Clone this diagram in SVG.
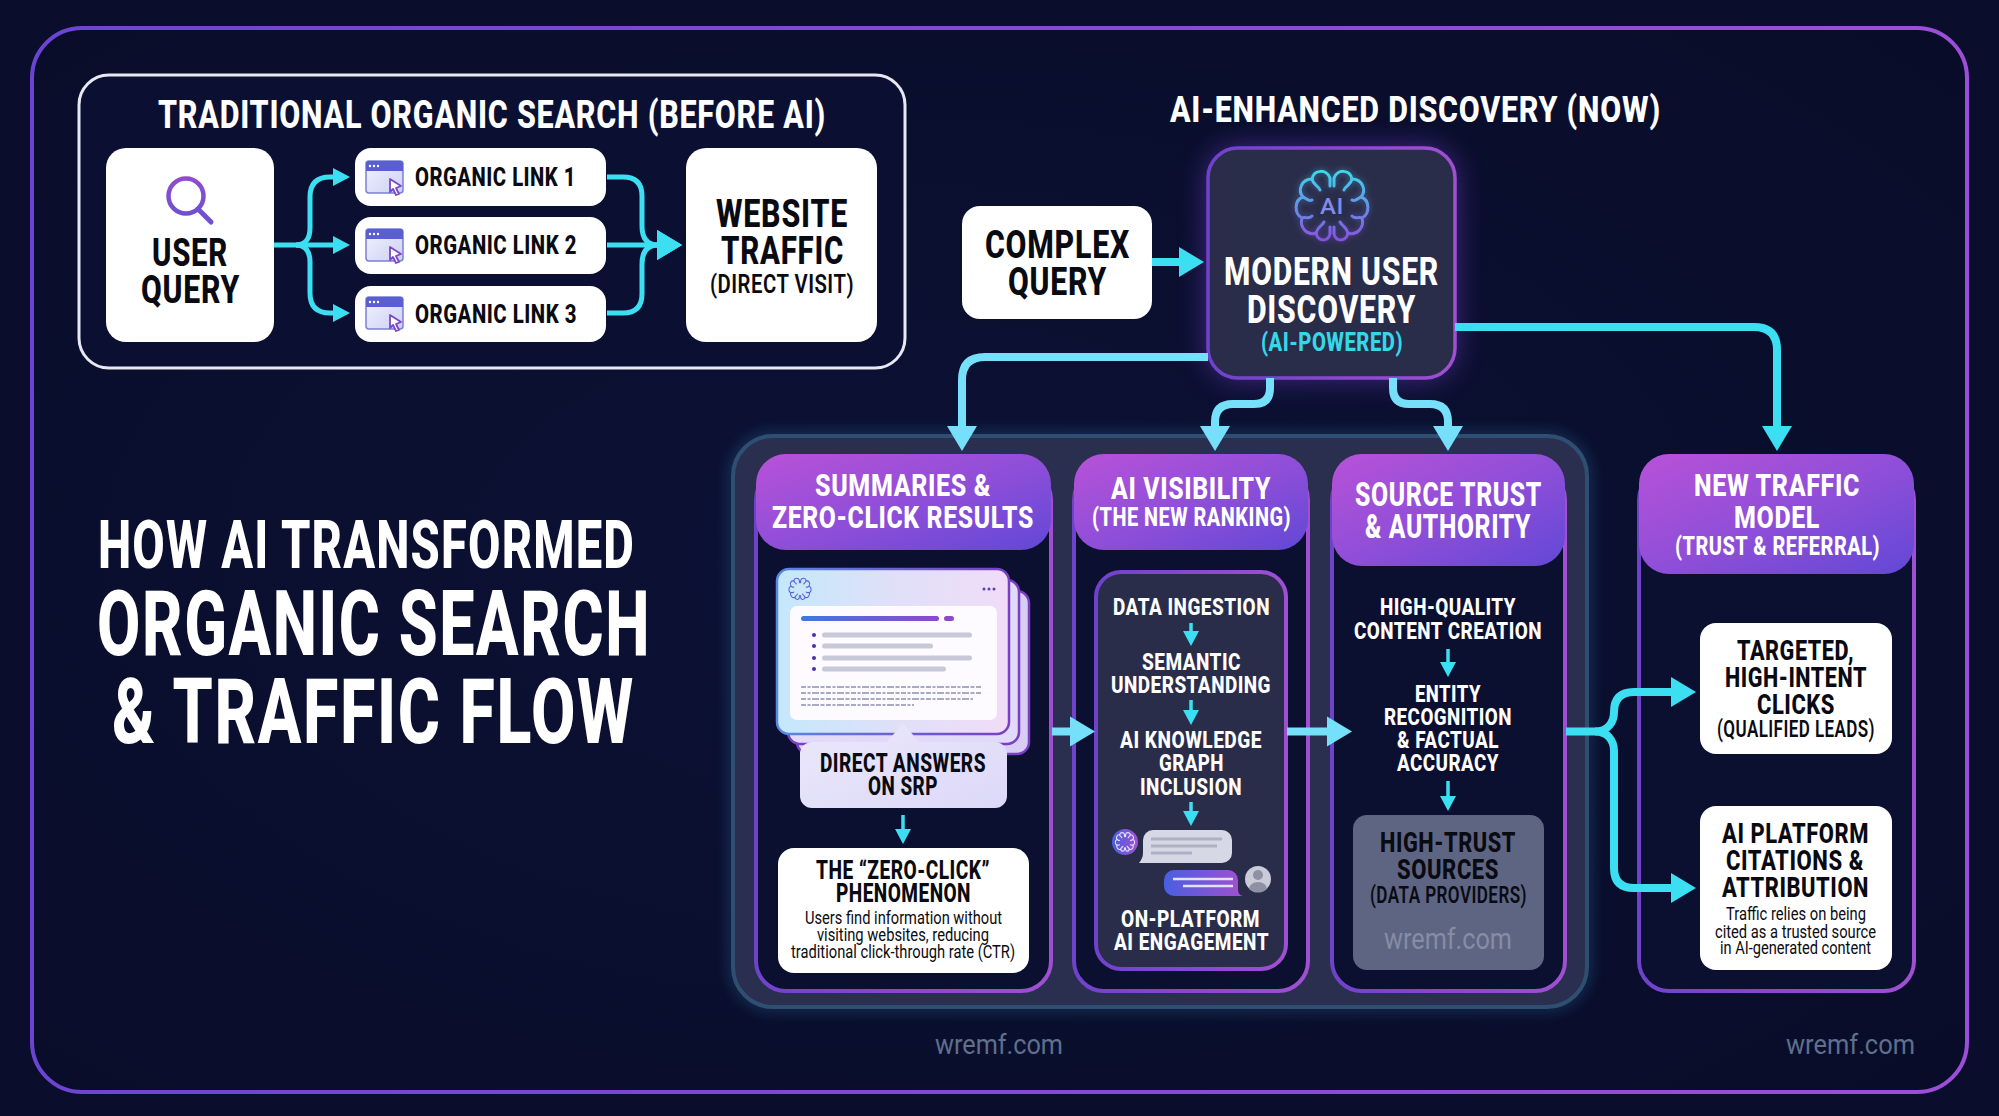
<svg xmlns="http://www.w3.org/2000/svg" xmlns:xlink="http://www.w3.org/1999/xlink" width="1999" height="1116" viewBox="0 0 1999 1116">
<style>
text{font-family:Roboto,"Liberation Sans",sans-serif;font-weight:800;fill:#fff;letter-spacing:.025em}
.k{fill:#0a0a12}
.n{font-weight:400;letter-spacing:0}
.m{font-weight:600}
.body{fill:#0b0f30;stroke:url(#colStroke);stroke-width:4}
.head{fill:url(#headG)}
.lineC{fill:none;stroke:#3cdff2;stroke-width:5;stroke-linejoin:round}
.bigC{fill:none;stroke:#3cdff2;stroke-width:8}
.bigL{fill:none;stroke:#76e0fa;stroke-width:8}
.thin{fill:none;stroke:#3cdff2;stroke-width:3.5}
.gl{fill:#c8c9d8}
.tiny{stroke:#a8a9c2;stroke-width:2;stroke-dasharray:5 1.5 3 1.5 7 1.5 4 1.5;fill:none}
</style>
<defs>
<radialGradient id="bgG" cx=".45" cy=".5" r=".75"><stop offset="0" stop-color="#0c1236"/><stop offset="1" stop-color="#090c28"/></radialGradient>
<linearGradient id="frameG" x1="0" y1="0" x2="1" y2="0"><stop offset="0" stop-color="#6c44d4"/><stop offset="1" stop-color="#9c4ed8"/></linearGradient>
<linearGradient id="colStroke" x1="0" y1="0" x2="1" y2="0"><stop offset="0" stop-color="#6f42cc"/><stop offset="1" stop-color="#a04fd2"/></linearGradient>
<linearGradient id="headG" x1="0" y1="0" x2="1" y2="1"><stop offset="0" stop-color="#b852d8"/><stop offset=".55" stop-color="#8c4ed8"/><stop offset="1" stop-color="#6148d6"/></linearGradient>
<linearGradient id="cardG" x1="0" y1="0" x2="1" y2="0"><stop offset="0" stop-color="#c4e8fc"/><stop offset=".5" stop-color="#dfe0f8"/><stop offset="1" stop-color="#f1dcf8"/></linearGradient>
<linearGradient id="cardS" x1="0" y1="0" x2="1" y2="0"><stop offset="0" stop-color="#5a86e4"/><stop offset="1" stop-color="#7a3fc4"/></linearGradient>
<linearGradient id="barG" x1="0" y1="0" x2="1" y2="0"><stop offset="0" stop-color="#3f78e0"/><stop offset="1" stop-color="#8e48cc"/></linearGradient>
<linearGradient id="bubG" x1="0" y1="0" x2="1" y2="0"><stop offset="0" stop-color="#4a5ee0"/><stop offset="1" stop-color="#a250d0"/></linearGradient>
<linearGradient id="calG" x1="0" y1="0" x2="1" y2="1"><stop offset="0" stop-color="#ebe8fb"/><stop offset="1" stop-color="#dcd8f8"/></linearGradient>
<linearGradient id="magG" x1="0" y1="0" x2="0" y2="1"><stop offset="0" stop-color="#8f4cd0"/><stop offset="1" stop-color="#7050d0"/></linearGradient>
<linearGradient id="brainG" gradientUnits="userSpaceOnUse" x1="0" y1="-36" x2="0" y2="36"><stop offset="0" stop-color="#3fd8ee"/><stop offset="1" stop-color="#8a4ce0"/></linearGradient>
<linearGradient id="winG" x1="0" y1="0" x2="1" y2="1"><stop offset="0" stop-color="#f2f3fd"/><stop offset="1" stop-color="#cdd0f5"/></linearGradient>
<filter id="glowP" x="-30%" y="-30%" width="160%" height="160%"><feGaussianBlur stdDeviation="14"/></filter>
<filter id="glowB" x="-10%" y="-10%" width="120%" height="120%"><feGaussianBlur stdDeviation="7"/></filter>
<filter id="soft" x="-20%" y="-20%" width="140%" height="140%"><feGaussianBlur stdDeviation="3"/></filter>
<marker id="hL" markerUnits="userSpaceOnUse" markerWidth="26" markerHeight="32" refX="1" refY="16" orient="auto"><path d="M0 1L25 16L0 31Z" fill="#76e0fa"/></marker>
<marker id="hC" markerUnits="userSpaceOnUse" markerWidth="26" markerHeight="32" refX="1" refY="16" orient="auto"><path d="M0 1L25 16L0 31Z" fill="#3cdff2"/></marker>
<marker id="hS" markerUnits="userSpaceOnUse" markerWidth="18" markerHeight="20" refX="1" refY="10" orient="auto"><path d="M0 1L17 10L0 19Z" fill="#3cdff2"/></marker>
<marker id="hX" markerUnits="userSpaceOnUse" markerWidth="16" markerHeight="18" refX="1" refY="9" orient="auto"><path d="M0 1L15 9L0 17Z" fill="#3cdff2"/></marker>
<g id="halfBrain" fill="none" stroke-linecap="round">
<path d="M2 -20V-28C5 -37 18 -37 20 -27C30 -27 35 -16 29 -9C38 -6 38 8 30 12C33 22 24 30 16 27C14 36 4 36 2 28V21"/>
<path d="M20 -27C19 -21 14 -21 12 -16M29 -9C25 -7 23 -4 20 -6M30 12C27 10 24 14 20 10M16 27C14 20 10 20 8 16"/>
</g>
<g id="brain"><use xlink:href="#halfBrain" href="#halfBrain"/><use xlink:href="#halfBrain" href="#halfBrain" transform="scale(-1,1)"/></g>
<g id="win">
<rect x="0" y="0" width="37" height="32" rx="3" fill="url(#winG)" stroke="#7a80d8" stroke-width="1.5"/>
<path d="M0 10V3a3 3 0 0 1 3-3H34a3 3 0 0 1 3 3V10Z" fill="#5a5ed0"/>
<circle cx="4" cy="5" r="1.2" fill="#fff"/><circle cx="8" cy="5" r="1.2" fill="#fff"/><circle cx="12" cy="5" r="1.2" fill="#fff"/>
<path d="M24 18L35 25L30 27L33 33L30 34L27 28L24 31Z" fill="#fff" stroke="#7a48c8" stroke-width="1.8" stroke-linejoin="round"/>
</g>
</defs>

<rect width="1999" height="1116" fill="#0a0e2c"/>
<rect x="32" y="28" width="1935" height="1064" rx="50" fill="url(#bgG)" stroke="url(#frameG)" stroke-width="4"/>

<g id="title">
<text x="98" y="568" font-size="66" textLength="537" lengthAdjust="spacingAndGlyphs">HOW AI TRANSFORMED</text>
<text x="97" y="655" font-size="90" textLength="554" lengthAdjust="spacingAndGlyphs">ORGANIC SEARCH</text>
<text x="112" y="743" font-size="90" textLength="523" lengthAdjust="spacingAndGlyphs">&amp; TRAFFIC FLOW</text>
</g>

<g id="traditional-frame">
<rect x="79" y="75" width="826" height="293" rx="30" fill="#0b1033" stroke="#e6e8f2" stroke-width="3"/>
<text x="158" y="128" font-size="39" textLength="668" lengthAdjust="spacingAndGlyphs">TRADITIONAL ORGANIC SEARCH (BEFORE AI)</text>
</g>
<g id="user-query">
<rect x="106" y="148" width="168" height="194" rx="20" fill="#fff"/>
<circle cx="186" cy="196" r="17.5" fill="none" stroke="url(#magG)" stroke-width="4.5"/>
<path d="M198 209L211 222" stroke="#7050d0" stroke-width="5" stroke-linecap="round"/>
<text class="k" x="152" y="266" font-size="38" textLength="76" lengthAdjust="spacingAndGlyphs">USER</text>
<text class="k" x="141" y="303" font-size="38" textLength="99" lengthAdjust="spacingAndGlyphs">QUERY</text>
</g>
<g id="organic-link-1"><rect x="355" y="148" width="251" height="58" rx="16" fill="#fff"/><use xlink:href="#win" href="#win" x="366" y="161"/><text class="k" x="415" y="186" font-size="25" textLength="161" lengthAdjust="spacingAndGlyphs">ORGANIC LINK 1</text></g>
<g id="organic-link-2"><rect x="355" y="217" width="251" height="57" rx="16" fill="#fff"/><use xlink:href="#win" href="#win" x="366" y="229"/><text class="k" x="415" y="254" font-size="25" textLength="162" lengthAdjust="spacingAndGlyphs">ORGANIC LINK 2</text></g>
<g id="organic-link-3"><rect x="355" y="286" width="251" height="56" rx="16" fill="#fff"/><use xlink:href="#win" href="#win" x="366" y="297"/><text class="k" x="415" y="323" font-size="25" textLength="162" lengthAdjust="spacingAndGlyphs">ORGANIC LINK 3</text></g>
<g id="website-traffic">
<rect x="686" y="148" width="191" height="194" rx="20" fill="#fff"/>
<text class="k" x="716" y="227" font-size="38" textLength="132" lengthAdjust="spacingAndGlyphs">WEBSITE</text>
<text class="k" x="721" y="264" font-size="38" textLength="123" lengthAdjust="spacingAndGlyphs">TRAFFIC</text>
<text class="k m" x="710" y="293" font-size="25" textLength="144" lengthAdjust="spacingAndGlyphs">(DIRECT VISIT)</text>
</g>

<text x="1170" y="122" font-size="37" textLength="491" lengthAdjust="spacingAndGlyphs">AI-ENHANCED DISCOVERY (NOW)</text>

<g id="complex-query">
<rect x="962" y="206" width="190" height="113" rx="18" fill="#fff"/>
<text class="k" x="985" y="258" font-size="38" textLength="145" lengthAdjust="spacingAndGlyphs">COMPLEX</text>
<text class="k" x="1008" y="295" font-size="38" textLength="99" lengthAdjust="spacingAndGlyphs">QUERY</text>
</g>

<g id="group-panel">
<rect x="733" y="436" width="854" height="571" rx="40" fill="none" stroke="#2f7fb0" stroke-width="6" opacity=".5" filter="url(#glowB)"/>
<rect x="733" y="436" width="854" height="571" rx="40" fill="#2b2f4f" stroke="#2f4f72" stroke-width="4"/>
</g>

<g id="modern-user-discovery">
<rect x="1208" y="148" width="247" height="230" rx="30" fill="#7a3fd8" opacity=".55" filter="url(#glowP)"/>
<rect x="1208" y="148" width="247" height="230" rx="30" fill="#2a2d4a" stroke="url(#colStroke)" stroke-width="3.500"/>
<g transform="translate(1332 206)">
<use xlink:href="#brain" href="#brain" filter="url(#soft)" opacity=".5" stroke="url(#brainG)" stroke-width="3"/>
<use xlink:href="#brain" href="#brain" stroke="url(#brainG)" stroke-width="3"/>
<text x="-12" y="8" font-size="22" textLength="24" lengthAdjust="spacingAndGlyphs" style="fill:#7f8cec;font-weight:500">AI</text>
</g>
<text x="1224" y="285" font-size="38" textLength="215" lengthAdjust="spacingAndGlyphs">MODERN USER</text>
<text x="1247" y="323" font-size="38" textLength="169" lengthAdjust="spacingAndGlyphs">DISCOVERY</text>
<text x="1261" y="351" font-size="25" textLength="142" lengthAdjust="spacingAndGlyphs" style="fill:#35d8e8">(AI-POWERED)</text>
</g>

<g id="col-summaries">
<rect class="body" x="756" y="470" width="295" height="521" rx="30"/>
<rect class="head" x="756" y="454" width="295" height="96" rx="30"/>
<text x="815" y="496" font-size="31" textLength="176" lengthAdjust="spacingAndGlyphs">SUMMARIES &amp;</text>
<text x="772" y="528" font-size="31" textLength="262" lengthAdjust="spacingAndGlyphs">ZERO-CLICK RESULTS</text>
<rect x="797" y="591" width="232" height="163" rx="12" fill="#d8cdf5" stroke="#7a3fc4" stroke-width="2.5"/>
<rect x="788" y="580" width="231" height="164" rx="12" fill="#e2daf9" stroke="#7a3fc4" stroke-width="2.5"/>
<rect x="777" y="569" width="232" height="165" rx="12" fill="url(#cardG)" stroke="url(#cardS)" stroke-width="2.5"/>
<g transform="translate(800 589) scale(.31)"><use xlink:href="#brain" href="#brain" stroke="#5a62d8" stroke-width="3.5"/></g>
<circle cx="984" cy="589" r="1.5" fill="#5a3fb0"/><circle cx="989" cy="589" r="1.5" fill="#5a3fb0"/><circle cx="994" cy="589" r="1.5" fill="#5a3fb0"/>
<rect x="790" y="606" width="207" height="114" rx="7" fill="#fdfbff"/>
<rect x="801" y="616" width="138" height="5" rx="2.5" fill="url(#barG)"/>
<rect x="944" y="616" width="10" height="5" rx="2.5" fill="#8e48cc"/>
<g fill="#4a2fa8"><circle cx="814" cy="635" r="2"/><circle cx="814" cy="646" r="2"/><circle cx="814" cy="658" r="2"/><circle cx="814" cy="669" r="2"/></g>
<rect class="gl" x="822" y="632.500" width="150" height="5" rx="2.500"/>
<rect class="gl" x="822" y="643.500" width="111" height="5" rx="2.500"/>
<rect class="gl" x="822" y="655.500" width="150" height="5" rx="2.500"/>
<rect class="gl" x="822" y="666.500" width="124" height="5" rx="2.500"/>
<path class="tiny" d="M801 687H982M801 693H981M801 699H973M801 705H914"/>
<path d="M800 754a12 12 0 0 1 12-12H887L903 723L919 742H995a12 12 0 0 1 12 12V796a12 12 0 0 1-12 12H812a12 12 0 0 1-12-12Z" fill="url(#calG)"/>
<text class="k" x="820" y="772" font-size="26" textLength="166" lengthAdjust="spacingAndGlyphs">DIRECT ANSWERS</text>
<text class="k" x="868" y="795" font-size="26" textLength="70" lengthAdjust="spacingAndGlyphs">ON SRP</text>
<rect x="778" y="848" width="251" height="125" rx="16" fill="#fff"/>
<text class="k" x="816" y="879" font-size="25" textLength="174" lengthAdjust="spacingAndGlyphs">THE “ZERO-CLICK”</text>
<text class="k" x="836" y="902" font-size="25" textLength="135" lengthAdjust="spacingAndGlyphs">PHENOMENON</text>
<text class="k n" x="805" y="924" font-size="19" textLength="197" lengthAdjust="spacingAndGlyphs">Users find information without</text>
<text class="k n" x="817" y="941" font-size="19" textLength="172" lengthAdjust="spacingAndGlyphs">visiting websites, reducing</text>
<text class="k n" x="791" y="958" font-size="19" textLength="224" lengthAdjust="spacingAndGlyphs">traditional click-through rate (CTR)</text>
</g>

<g id="col-ai-visibility">
<rect class="body" x="1074" y="470" width="234" height="521" rx="30"/>
<rect class="head" x="1074" y="454" width="234" height="96" rx="30"/>
<text x="1111" y="499" font-size="31" textLength="160" lengthAdjust="spacingAndGlyphs">AI VISIBILITY</text>
<text x="1092" y="526" font-size="26" textLength="199" lengthAdjust="spacingAndGlyphs">(THE NEW RANKING)</text>
<rect x="1096" y="572" width="190" height="397" rx="25" fill="#2a2d4a" stroke="url(#colStroke)" stroke-width="4"/>
<text x="1113" y="615" font-size="24" textLength="157" lengthAdjust="spacingAndGlyphs">DATA INGESTION</text>
<text x="1142" y="670" font-size="24" textLength="99" lengthAdjust="spacingAndGlyphs">SEMANTIC</text>
<text x="1111" y="693" font-size="24" textLength="160" lengthAdjust="spacingAndGlyphs">UNDERSTANDING</text>
<text x="1120" y="748" font-size="24" textLength="142" lengthAdjust="spacingAndGlyphs">AI KNOWLEDGE</text>
<text x="1159" y="771" font-size="24" textLength="65" lengthAdjust="spacingAndGlyphs">GRAPH</text>
<text x="1140" y="795" font-size="24" textLength="102" lengthAdjust="spacingAndGlyphs">INCLUSION</text>
<circle cx="1125" cy="842" r="13" fill="url(#bubG)"/>
<g transform="translate(1125 842) scale(.27)"><use xlink:href="#brain" href="#brain" stroke="#e4e4fa" stroke-width="4"/></g>
<path d="M1143 840a10 10 0 0 1 10-10H1222a10 10 0 0 1 10 10V853a10 10 0 0 1-10 10H1139Q1143 858 1143 853Z" fill="#d6d8e6"/>
<path d="M1151 839H1222M1151 846H1217M1151 853H1192" stroke="#aeb0c4" stroke-width="3" fill="none"/>
<path d="M1164 880a10 10 0 0 1 10-10H1228a10 10 0 0 1 10 10V890Q1238 895 1243 896H1174a10 10 0 0 1-10-10Z" fill="url(#bubG)"/>
<path d="M1173 879H1233M1183 886H1233" stroke="#e0e2f8" stroke-width="2.500" fill="none"/>
<circle cx="1258" cy="879" r="13" fill="#c9cbd9"/>
<circle cx="1258" cy="875" r="5" fill="#8e90a4"/>
<path d="M1249 889a9 7 0 0 1 18 0a13 13 0 0 1-18 0Z" fill="#8e90a4"/>
<text x="1121" y="927" font-size="24" textLength="139" lengthAdjust="spacingAndGlyphs">ON-PLATFORM</text>
<text x="1114" y="950" font-size="24" textLength="155" lengthAdjust="spacingAndGlyphs">AI ENGAGEMENT</text>
</g>

<g id="col-source-trust">
<rect class="body" x="1332" y="470" width="233" height="521" rx="30"/>
<rect class="head" x="1332" y="454" width="233" height="112" rx="30"/>
<text x="1355" y="506" font-size="33" textLength="187" lengthAdjust="spacingAndGlyphs">SOURCE TRUST</text>
<text x="1365" y="538" font-size="33" textLength="166" lengthAdjust="spacingAndGlyphs">&amp; AUTHORITY</text>
<text x="1380" y="615" font-size="24" textLength="136" lengthAdjust="spacingAndGlyphs">HIGH-QUALITY</text>
<text x="1354" y="639" font-size="24" textLength="188" lengthAdjust="spacingAndGlyphs">CONTENT CREATION</text>
<text x="1415" y="702" font-size="24" textLength="66" lengthAdjust="spacingAndGlyphs">ENTITY</text>
<text x="1384" y="725" font-size="24" textLength="128" lengthAdjust="spacingAndGlyphs">RECOGNITION</text>
<text x="1397" y="748" font-size="24" textLength="102" lengthAdjust="spacingAndGlyphs">&amp; FACTUAL</text>
<text x="1397" y="771" font-size="24" textLength="102" lengthAdjust="spacingAndGlyphs">ACCURACY</text>
<rect x="1353" y="815" width="191" height="155" rx="14" fill="#5d6583"/>
<text class="k" x="1380" y="852" font-size="28" textLength="136" lengthAdjust="spacingAndGlyphs">HIGH-TRUST</text>
<text class="k" x="1397" y="879" font-size="28" textLength="102" lengthAdjust="spacingAndGlyphs">SOURCES</text>
<text class="k m" x="1370" y="903" font-size="23" textLength="157" lengthAdjust="spacingAndGlyphs">(DATA PROVIDERS)</text>
<text class="n" x="1384" y="949" font-size="30" textLength="128" lengthAdjust="spacingAndGlyphs" style="fill:#868da3">wremf.com</text>
</g>

<g id="col-new-traffic">
<rect class="body" x="1639" y="470" width="275" height="521" rx="30"/>
<rect class="head" x="1639" y="454" width="275" height="120" rx="30"/>
<text x="1694" y="496" font-size="32" textLength="166" lengthAdjust="spacingAndGlyphs">NEW TRAFFIC</text>
<text x="1734" y="528" font-size="32" textLength="86" lengthAdjust="spacingAndGlyphs">MODEL</text>
<text x="1675" y="555" font-size="26" textLength="205" lengthAdjust="spacingAndGlyphs">(TRUST &amp; REFERRAL)</text>
</g>
<g id="targeted-clicks">
<rect x="1700" y="623" width="192" height="131" rx="16" fill="#fff"/>
<text class="k" x="1737" y="660" font-size="28" textLength="117" lengthAdjust="spacingAndGlyphs">TARGETED,</text>
<text class="k" x="1725" y="687" font-size="28" textLength="142" lengthAdjust="spacingAndGlyphs">HIGH-INTENT</text>
<text class="k" x="1757" y="714" font-size="28" textLength="78" lengthAdjust="spacingAndGlyphs">CLICKS</text>
<text class="k m" x="1717" y="737" font-size="23" textLength="158" lengthAdjust="spacingAndGlyphs">(QUALIFIED LEADS)</text>
</g>
<g id="ai-citations">
<rect x="1700" y="806" width="192" height="164" rx="16" fill="#fff"/>
<text class="k" x="1722" y="843" font-size="28" textLength="147" lengthAdjust="spacingAndGlyphs">AI PLATFORM</text>
<text class="k" x="1726" y="870" font-size="28" textLength="138" lengthAdjust="spacingAndGlyphs">CITATIONS &amp;</text>
<text class="k" x="1722" y="897" font-size="28" textLength="147" lengthAdjust="spacingAndGlyphs">ATTRIBUTION</text>
<text class="k n" x="1726" y="920" font-size="18" textLength="140" lengthAdjust="spacingAndGlyphs">Traffic relies on being</text>
<text class="k n" x="1715" y="938" font-size="18" textLength="161" lengthAdjust="spacingAndGlyphs">cited as a trusted source</text>
<text class="k n" x="1720" y="954" font-size="18" textLength="151" lengthAdjust="spacingAndGlyphs">in AI-generated content</text>
</g>

<g id="watermarks">
<text class="n" x="935" y="1054" font-size="28" textLength="128" lengthAdjust="spacingAndGlyphs" style="fill:#5f6f8c">wremf.com</text>
<text class="n" x="1786" y="1054" font-size="28" textLength="129" lengthAdjust="spacingAndGlyphs" style="fill:#5f6f8c">wremf.com</text>
</g>

<g id="connectors">
<path class="lineC" d="M274 245H334" marker-end="url(#hS)"/>
<path class="lineC" d="M296 245C306 245 310 238 310 228V197Q310 177 330 177H334" marker-end="url(#hS)"/>
<path class="lineC" d="M296 245C306 245 310 252 310 262V293Q310 313 330 313H334" marker-end="url(#hS)"/>
<path class="lineC" d="M607 245H658" marker-end="url(#hC)"/>
<path class="lineC" d="M607 177H623Q642 177 642 196V226Q642 245 658 245" marker-end="url(#hC)"/>
<path class="lineC" d="M607 313H623Q642 313 642 294V264Q642 245 658 245" marker-end="url(#hC)"/>
<path class="bigC" d="M1152 262H1180" marker-end="url(#hC)"/>
<path class="bigL" d="M1208 357H985Q962 357 962 380V427" marker-end="url(#hL)"/>
<path class="bigL" d="M1270 378V388Q1270 404 1254 404H1233Q1215 404 1215 422V427" marker-end="url(#hL)"/>
<path class="bigL" d="M1393 378V388Q1393 404 1409 404H1430Q1448 404 1448 422V427" marker-end="url(#hL)"/>
<path class="bigC" d="M1455 327H1754Q1777 327 1777 350V427" marker-end="url(#hC)"/>
<path class="bigL" d="M1052 731.500H1071" marker-end="url(#hL)"/>
<path class="bigL" d="M1287 731.500H1328" marker-end="url(#hL)"/>
<path class="bigC" d="M1566 731.500H1595C1608 731.500 1614 722 1614 712Q1614 692 1634 692H1672" marker-end="url(#hC)"/>
<path class="bigC" d="M1595 731.500C1608 731.500 1614 741 1614 751V868Q1614 888 1634 888H1672" marker-end="url(#hC)"/>
<path class="thin" d="M903 815V830" marker-end="url(#hX)"/>
<path class="thin" d="M1191 623V632" marker-end="url(#hX)"/>
<path class="thin" d="M1191 700V711" marker-end="url(#hX)"/>
<path class="thin" d="M1191 802V812" marker-end="url(#hX)"/>
<path class="thin" d="M1448 649V663" marker-end="url(#hX)"/>
<path class="thin" d="M1448 781V797" marker-end="url(#hX)"/>
</g>
</svg>
